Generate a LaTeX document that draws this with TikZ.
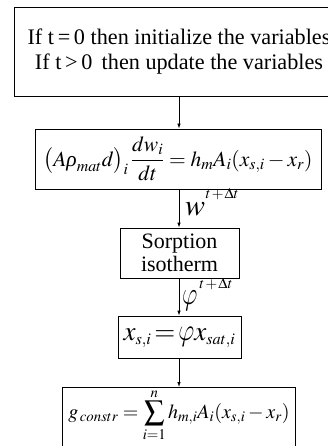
\documentclass[tikz,border=0pt]{standalone}
\usepackage{mathptmx}
\usepackage[no-math]{fontspec}
\usepackage{graphicx}
\setmainfont{Liberation Serif}
\usetikzlibrary{arrows.meta}
\DeclareSymbolFont{lmlet}{OML}{lmm}{m}{it}
\DeclareMathSymbol{\cmvarphi}{\mathord}{lmlet}{"27}
\newcommand{\grk}[1]{\mbox{\itshape #1}}
\newcommand{\tallphi}{\mathord{\scalebox{1}[1.25]{$\cmvarphi$}}}
\tikzset{
  box/.style={draw, line width=0.8pt, inner sep=0pt, align=center},
  openbox/.style={inner sep=0pt, align=center},
  edge/.style={line width=0.8pt},
  flow/.style={line width=0.8pt, -{Latex[length=5pt,width=3.5pt]}},
  lbl/.style={inner sep=0pt, anchor=base west}
}
\begin{document}
\begin{tikzpicture}[x=1pt,y=-1pt]
\useasboundingbox (0,0) rectangle (328,446);
\clip (0,0) rectangle (328,446);
\node[openbox, minimum width=328, minimum height=88, font=\fontsize{22.2}{25}\selectfont] (init) at (179,52)
  {If t\,=\,0 then initialize the variables\\If t\,>\,0\, then update the variables};
\draw[edge] (init.north east) -- (init.north west) -- (init.south west) -- (init.south east);
\node[box, minimum width=286, minimum height=60, font=\fontsize{21.5}{24}\selectfont] (mass) at (178,159)
  {$\displaystyle \bigl(A\grk{ρ}_{mat}d\bigr)_i\,\frac{dw_i}{dt}=h_m A_i(x_{s,i}-x_r)$};
\node[box, minimum width=119, minimum height=50, font=\fontsize{22}{23}\selectfont] (sorp) at (179.5,253)
  {Sorption\\isotherm};
\node[box, minimum width=123, minimum height=42, font=\fontsize{27}{28}\selectfont] (xs) at (179.5,337)
  {$x_{\scriptscriptstyle s,i}\mkern2mu{=}\mkern2mu\tallphi x_{\scriptscriptstyle sat,i}$};
\node[openbox, minimum width=232, minimum height=80, anchor=north] (gbox) at (179,387) {};
\draw[edge] (gbox.south west) -- (gbox.north west) -- (gbox.north east) -- (gbox.south east);
\node[inner sep=0pt, font=\fontsize{20}{24}\selectfont] (g) at (179,415)
  {$\displaystyle g_{\,constr}=\sum_{i=1}^{n}h_{m,i}A_i(x_{s,i}-x_r)$};
\draw[flow] (init.south -| 179,0) -- (mass.north -| 179,0);
\draw[flow] (mass.south -| 179,0) -- (sorp.north -| 179,0);
\draw[flow] (sorp.south -| 179,0) -- (xs.north -| 179,0);
\draw[flow] (xs.south -| 179,0) -- (gbox.north -| 179,0);
\node[lbl] (wl) at (185,215)
  {\fontsize{30}{30}\selectfont$w$\hspace{0.5pt}\raisebox{17pt}{\fontsize{15}{15}\selectfont$t\mkern-1mu+\mkern-1mu\Delta t$}};
\node[lbl] (pl) at (182,304)
  {\fontsize{22}{22}\selectfont\scalebox{1.15}[1.55]{$\cmvarphi$}\hspace{2pt}\raisebox{16pt}{\fontsize{15}{15}\selectfont$t\mkern-1mu+\mkern-1mu\Delta t$}};
\end{tikzpicture}
\end{document}
